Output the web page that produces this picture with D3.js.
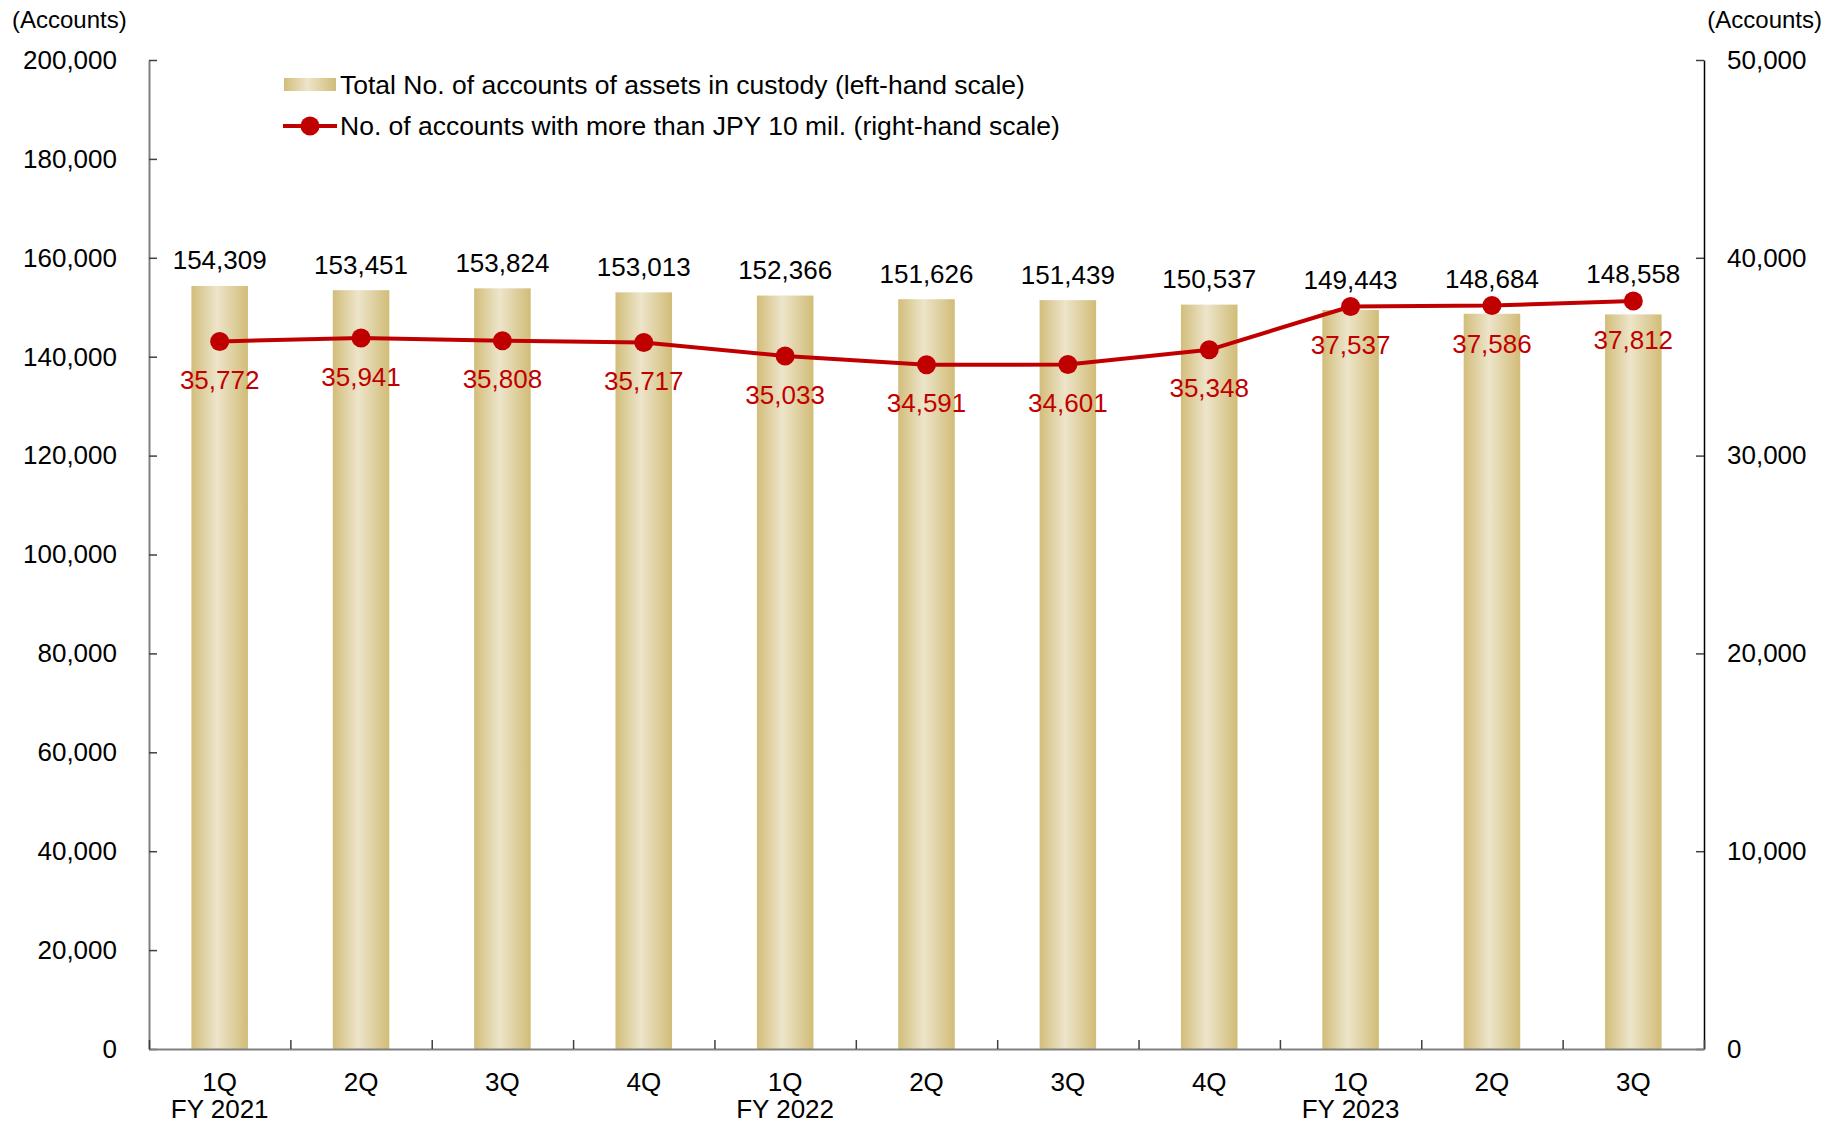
<!DOCTYPE html>
<html>
<head>
<meta charset="utf-8">
<script src="https://cdn.jsdelivr.net/npm/d3@7"></script>
<style>
  html, body { margin: 0; padding: 0; background: #fff; }
  svg { display: block; font-family: "Liberation Sans", Arial, sans-serif; }
</style>
</head>
<body>
<svg id="chart" width="1825" height="1125"></svg>
<script>
// Quarter labels and fiscal-year captions
const quarters = ["1Q", "2Q", "3Q", "4Q", "1Q", "2Q", "3Q", "4Q", "1Q", "2Q", "3Q"];
const fiscalYears = ["FY 2021", "", "", "", "FY 2022", "", "", "", "FY 2023", "", ""];

// Total number of accounts with assets in custody (left scale)
const totalAccounts = [154309, 153451, 153824, 153013, 152366, 151626, 151439, 150537, 149443, 148684, 148558];

// Accounts holding more than JPY 10 mil. (right scale)
const largeAccounts = [35772, 35941, 35808, 35717, 35033, 34591, 34601, 35348, 37537, 37586, 37812];

// Axis ticks
const leftTicks = [0, 20000, 40000, 60000, 80000, 100000, 120000, 140000, 160000, 180000, 200000];
const rightTicks = [0, 10000, 20000, 30000, 40000, 50000];

const legendLabels = [
  "Total No. of accounts of assets in custody (left-hand scale)",
  "No. of accounts with more than JPY 10 mil. (right-hand scale)"
];

const margin = { left: 149, right: 1704, top: 60, bottom: 1049 };
const fontSize = 26;
const red = "#C00000";
const fmt = d3.format(",");

const svg = d3.select("#chart");
const idx = d3.range(quarters.length);

const x = d3.scaleBand().domain(idx).range([margin.left, margin.right]).paddingInner(0.6).paddingOuter(0.3);
const xEdge = d3.scaleLinear().domain([0, quarters.length]).range([margin.left, margin.right]);
const yL = d3.scaleLinear().domain([0, 200000]).range([margin.bottom, margin.top]);
const yR = d3.scaleLinear().domain([0, 50000]).range([margin.bottom, margin.top]);
const cx = i => x(i) + x.bandwidth() / 2;

// Bar fill: metallic gold, light in the middle
const defs = svg.append("defs");
const grad = defs.append("linearGradient").attr("id", "gold").attr("x1", "0").attr("x2", "1").attr("y1", "0").attr("y2", "0");
grad.append("stop").attr("offset", "0%").attr("stop-color", "#D2BD7A");
grad.append("stop").attr("offset", "45%").attr("stop-color", "#EDE5CB");
grad.append("stop").attr("offset", "100%").attr("stop-color", "#D1BC77");

// Bars
svg.append("g").selectAll("rect").data(idx).join("rect")
  .attr("x", i => x(i))
  .attr("width", x.bandwidth())
  .attr("y", i => yL(totalAccounts[i]))
  .attr("height", i => yL(0) - yL(totalAccounts[i]))
  .attr("fill", "url(#gold)");

// Left axis
const gL = svg.append("g").attr("transform", `translate(${margin.left},0)`)
  .call(d3.axisLeft(yL).tickValues(leftTicks).tickFormat(fmt).tickSizeInner(-8).tickSizeOuter(0).tickPadding(32));
gL.select(".domain").attr("stroke", "#808080").attr("stroke-width", 2);
gL.selectAll(".tick line").attr("stroke", "#404040").attr("stroke-width", 1.5);
gL.selectAll("text").attr("font-size", fontSize).attr("fill", "#000").attr("font-family", null);

// Right axis
const gR = svg.append("g").attr("transform", `translate(${margin.right},0)`)
  .call(d3.axisRight(yR).tickValues(rightTicks).tickFormat(fmt).tickSizeInner(-8).tickSizeOuter(0).tickPadding(23));
gR.select(".domain").attr("stroke", "#000").attr("stroke-width", 1.5);
gR.selectAll(".tick line").attr("stroke", "#404040").attr("stroke-width", 1.5);
gR.selectAll("text").attr("font-size", fontSize).attr("fill", "#000").attr("font-family", null);

// Bottom axis: ticks on category boundaries
const gB = svg.append("g").attr("transform", `translate(0,${margin.bottom})`)
  .call(d3.axisBottom(xEdge).tickValues(d3.range(quarters.length + 1)).tickFormat("").tickSizeInner(-9).tickSizeOuter(0));
gB.select(".domain").attr("stroke", "#808080").attr("stroke-width", 2);
gB.selectAll(".tick line").attr("stroke", "#404040").attr("stroke-width", 1.5);

// Category labels
const cats = svg.append("g").attr("font-size", fontSize).attr("text-anchor", "middle").attr("fill", "#000");
cats.selectAll("text.q").data(idx).join("text").attr("class", "q")
  .attr("x", cx)
  .attr("y", margin.bottom + 42)
  .text(i => quarters[i]);
cats.selectAll("text.fy").data(idx.filter(i => fiscalYears[i])).join("text").attr("class", "fy")
  .attr("x", cx)
  .attr("y", margin.bottom + 69)
  .text(i => fiscalYears[i]);

// Bar value labels, lifted clear of the line where the two meet
svg.append("g").attr("font-size", fontSize).attr("text-anchor", "middle").attr("fill", "#000")
  .selectAll("text").data(idx).join("text")
  .attr("x", cx)
  .attr("y", i => Math.min(yL(totalAccounts[i]) - 16.5, yR(largeAccounts[i]) - 18))
  .text(i => fmt(totalAccounts[i]));

// Line series
const line = d3.line().x(cx).y(i => yR(largeAccounts[i]));
svg.append("path").datum(idx).attr("d", line)
  .attr("fill", "none").attr("stroke", red).attr("stroke-width", 4).attr("stroke-linejoin", "round");
svg.append("g").selectAll("circle").data(idx).join("circle")
  .attr("cx", cx)
  .attr("cy", i => yR(largeAccounts[i]))
  .attr("r", 9.5).attr("fill", red);

// Line value labels
svg.append("g").attr("font-size", fontSize).attr("text-anchor", "middle").attr("fill", red)
  .selectAll("text").data(idx).join("text")
  .attr("x", cx)
  .attr("y", i => yR(largeAccounts[i]) + 47.5)
  .text(i => fmt(largeAccounts[i]));

// Unit captions
svg.append("text").attr("x", 12).attr("y", 28).attr("font-size", 24).text("(Accounts)");
svg.append("text").attr("x", 1822).attr("y", 28).attr("font-size", 24).attr("text-anchor", "end").text("(Accounts)");

// Legend
const lg = svg.append("g").attr("font-size", 26.5).attr("fill", "#000");
lg.append("rect").attr("x", 284).attr("y", 78).attr("width", 52).attr("height", 13).attr("fill", "url(#gold)");
lg.append("text").attr("x", 340).attr("y", 93.5).text(legendLabels[0]);
lg.append("line").attr("x1", 283).attr("x2", 337).attr("y1", 126).attr("y2", 126).attr("stroke", red).attr("stroke-width", 4);
lg.append("circle").attr("cx", 310).attr("cy", 126).attr("r", 9.5).attr("fill", red);
lg.append("text").attr("x", 340).attr("y", 135).text(legendLabels[1]);
</script>
</body>
</html>
